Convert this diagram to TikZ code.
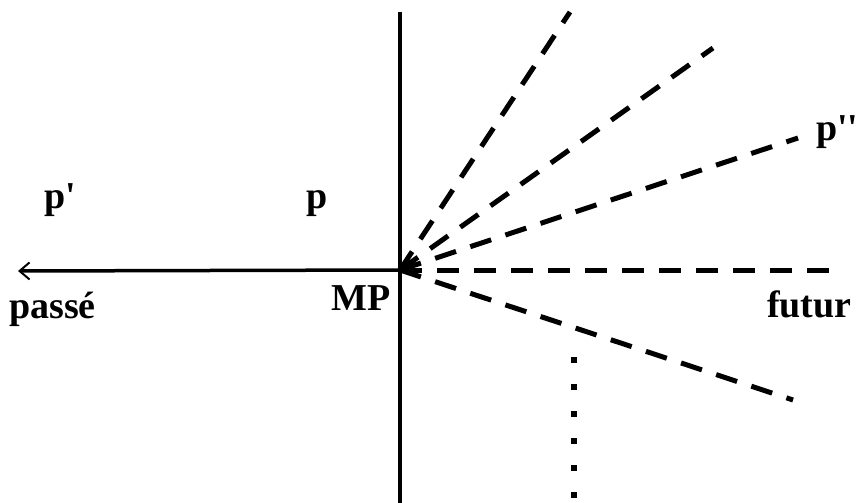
\documentclass[tikz,border=0pt]{standalone}
\usepackage{fontspec}
\setmainfont{Liberation Serif}
\usetikzlibrary{arrows.meta}
\tikzset{
  lbl/.style={font=\bfseries\fontsize{38}{40}\selectfont, inner sep=0pt, anchor=base west},
  axis/.style={line width=3.5pt},
  ray/.style={line width=5pt, dash pattern=on 22pt off 15pt},
  dotline/.style={line width=6pt, dash pattern=on 6pt off 21pt}
}
\begin{document}
\begin{tikzpicture}[x=1pt,y=-1pt]
\useasboundingbox (0,0) rectangle (859,503);
\coordinate (O) at (400,270);
\coordinate (vtop) at (400,12);
\coordinate (vbot) at (400,503);
\coordinate (left) at (18,271);
\coordinate (r1) at (570,12);
\coordinate (r2) at (713,48);
\coordinate (r3) at (798,138);
\coordinate (r4) at (835,270);
\coordinate (r5) at (793,400);
\coordinate (dtop) at (574,357);
\coordinate (dbot) at (574,500);
\draw[axis] (vtop) -- (vbot);
\draw[axis, -{Straight Barb[length=10pt,width=17pt,line width=2pt]}] (O) -- (left);
\draw[ray] (O) -- (r1);
\draw[ray] (O) -- (r2);
\draw[ray] (O) -- (r3);
\draw[ray] (O) -- (r4);
\draw[ray] (O) -- (r5);
\draw[dotline] (dtop) -- (dbot);
\node[lbl] (pprime) at (44,208) {p\textquotesingle};
\node[lbl] (p) at (306,208) {p};
\node[lbl] (ppp) at (816,140) {p\textquotesingle\textquotesingle};
\node[lbl] (passe) at (9,318) {passé};
\node[lbl] (mp) at (331,310) {MP};
\node[lbl] (futur) at (767,317) {futur};
\end{tikzpicture}
\end{document}
